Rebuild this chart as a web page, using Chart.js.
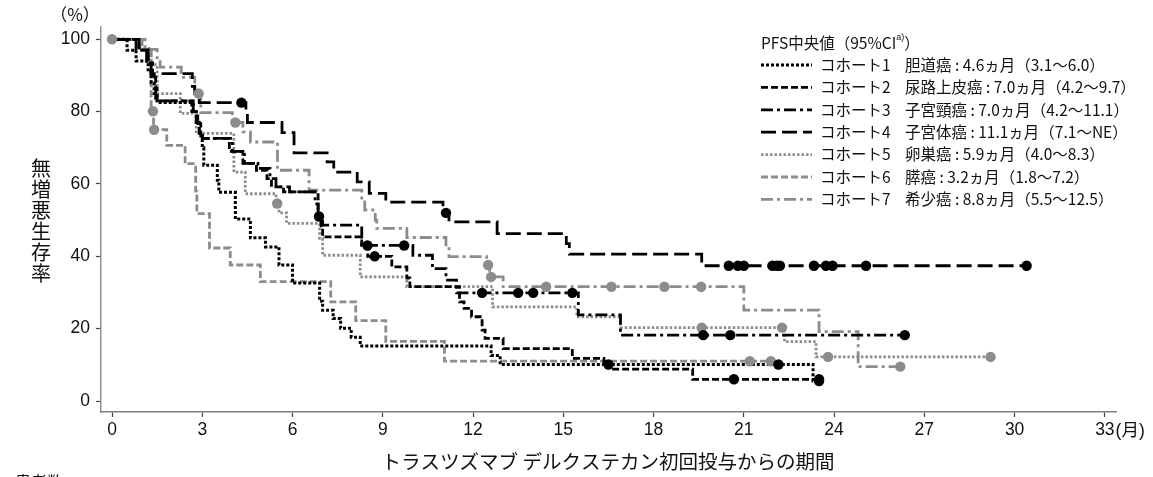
<!DOCTYPE html>
<html lang="ja">
<head>
<meta charset="UTF-8">
<title>PFS Kaplan-Meier</title>
<script src="https://cdn.jsdelivr.net/npm/chart.js"></script>
<style>
body { margin: 0; background: #ffffff; }
#wrap { width: 1153px; height: 477px; }
</style>
</head>
<body>
<div id="wrap"><canvas id="pfsChart" width="1153" height="477"></canvas></div>
<script>
// axis ticks
const xTicks = [0, 3, 6, 9, 12, 15, 18, 21, 24, 27, 30, 33];
const yTicks = [0, 20, 40, 60, 80, 100];

// step points (month, % PFS); last point = end of follow-up
const c1Time = [0, 0.5, 0.8, 1.2, 1.3, 1.4, 1.5, 2.7, 2.8, 2.9, 3.0, 3.05, 3.5, 3.55, 4.1, 4.6, 5.1, 5.55, 6.0, 6.9, 7.0, 7.35, 7.6, 7.95, 8.25, 12.6, 12.9, 23.3, 23.5];
const c1Surv = [100, 97, 94, 91, 88, 85, 82.5, 80, 77, 74, 70, 65.2, 61, 57.7, 50.3, 45.1, 42.6, 37.6, 32.6, 27.6, 25.1, 22.8, 20.1, 17.6, 15.2, 12.6, 10.1, 5.5, 5.5];
const c1Cens = [22.15, 23.5];

const c2Time = [0, 0.9, 1.2, 1.35, 1.45, 1.5, 2.65, 2.8, 2.95, 3.9, 4.35, 4.8, 5.15, 5.3, 5.7, 6.85, 6.95, 7.0, 8.3, 8.5, 9.3, 9.8, 9.9, 11.55, 11.7, 11.95, 12.3, 12.4, 13.0, 15.3, 16.35, 16.6, 19.3, 23.5];
const c2Surv = [100, 97, 93.5, 90, 86.5, 83, 80, 76.7, 72.6, 69, 65.7, 63.8, 61.5, 59.2, 57.8, 51.5, 48, 45.4, 42.5, 40, 37.1, 34, 31.6, 27.4, 25.6, 23.3, 19.6, 17.3, 14.5, 11.8, 10.1, 8.8, 6, 6];
const c2Cens = [8.73, 16.5, 20.67, 23.5];

const c3Time = [0, 0.8, 1.15, 1.3, 1.4, 1.45, 2.7, 2.85, 2.9, 3.0, 4.0, 4.4, 4.85, 5.25, 5.45, 5.9, 6.75, 6.85, 7.0, 8.3, 10.0, 10.65, 11.1, 11.45, 15.5, 16.9, 26.35];
const c3Surv = [100, 97, 93.5, 90, 86.5, 83, 80, 76.7, 73.5, 72.6, 69, 65.7, 64.3, 61.5, 59.2, 57.8, 54.5, 51, 48.6, 43, 40.3, 36.6, 33.4, 29.9, 23.8, 18.2, 18.2];
const c3Cens = [6.88, 8.49, 9.71, 12.3, 13.5, 14.0, 15.3, 19.65, 20.55, 26.35];

const c4Time = [0, 0.9, 1.2, 1.3, 2.67, 2.75, 2.9, 4.45, 4.5, 5.65, 6.05, 7.15, 7.37, 8.15, 8.55, 9.1, 11.0, 11.2, 12.8, 15.1, 15.2, 19.6, 30.4];
const c4Surv = [100, 97, 93, 90.5, 87, 85, 82.5, 80, 77, 74.2, 68.6, 66.1, 63.3, 60.6, 57.4, 55, 52, 49.5, 46.3, 43.5, 40.6, 37.4, 37.4];
const c4Cens = [4.3, 11.1, 20.5, 20.8, 21.0, 21.95, 22.1, 22.2, 23.33, 23.73, 23.95, 25.06, 30.4];

const c5Time = [0, 0.8, 1.3, 1.5, 2.27, 2.8, 4.05, 4.43, 5.45, 5.55, 5.8, 6.9, 7.0, 8.25, 9.8, 12.65, 15.45, 16.9, 22.35, 23.4, 29.2];
const c5Surv = [100, 97.5, 93, 85, 79.5, 74, 63.3, 57.3, 54.6, 52, 49.1, 45, 40.3, 34.3, 31.6, 26, 23.3, 20.3, 16.4, 12.2, 12.2];
const c5Cens = [0, 5.49, 19.6, 22.27, 23.8, 29.2];

const c6Time = [0, 1.0, 1.3, 1.38, 1.82, 2.43, 2.78, 2.82, 3.24, 3.93, 4.93, 7.27, 8.1, 9.1, 11.05, 21.9];
const c6Surv = [100, 97.2, 80.1, 75, 70.7, 65.6, 58, 51.8, 42.3, 37.6, 33, 27.4, 22.2, 16.5, 11, 11];
const c6Cens = [1.36, 1.4, 21.2, 21.9];

const c7Time = [0, 1.1, 1.5, 1.6, 2.3, 2.75, 2.95, 4.0, 4.35, 4.6, 5.5, 6.55, 8.3, 8.4, 8.75, 8.8, 9.8, 11.1, 11.2, 12.45, 12.55, 13.0, 21.0, 23.5, 24.8, 26.2];
const c7Surv = [100, 97.2, 94.4, 92.3, 89.5, 85, 79.7, 77, 74.4, 71.6, 63.8, 58.3, 55.5, 52.8, 50, 47.7, 45.2, 42.6, 39.9, 37.6, 34.3, 31.6, 25.1, 19.2, 9.5, 9.5];
const c7Cens = [2.88, 4.1, 12.5, 12.6, 14.43, 16.6, 18.36, 19.58, 26.2];

// labels
const cohortNames = ['コホート1', 'コホート2', 'コホート3', 'コホート4', 'コホート5', 'コホート6', 'コホート7'];
const cancerLabels = [
  '胆道癌 : 4.6ヵ月（3.1〜6.0）',
  '尿路上皮癌 : 7.0ヵ月（4.2〜9.7）',
  '子宮頸癌 : 7.0ヵ月（4.2〜11.1）',
  '子宮体癌 : 11.1ヵ月（7.1〜NE）',
  '卵巣癌 : 5.9ヵ月（4.0〜8.3）',
  '膵癌 : 3.2ヵ月（1.8〜7.2）',
  '希少癌 : 8.8ヵ月（5.5〜12.5）'
];
const legendTitle = 'PFS中央値（95%CI';
const yTitle = '無増悪生存率';
const xTitle = 'トラスツズマブ デルクステカン初回投与からの期間';

const allTimes = [c1Time, c2Time, c3Time, c4Time, c5Time, c6Time, c7Time];
const allSurv = [c1Surv, c2Surv, c3Surv, c4Surv, c5Surv, c6Surv, c7Surv];
const allCens = [c1Cens, c2Cens, c3Cens, c4Cens, c5Cens, c6Cens, c7Cens];

const gray = '#8c8c8c';
const styles = [
  { color: '#000', dash: [3, 2], width: 3 },
  { color: '#000', dash: [7, 3], width: 2.8 },
  { color: '#000', dash: [12, 4, 3, 4], width: 2.8 },
  { color: '#000', dash: [15, 6], width: 2.8 },
  { color: gray, dash: [2.5, 2], width: 2.8 },
  { color: gray, dash: [7, 3], width: 2.8 },
  { color: gray, dash: [12, 4, 3, 4], width: 2.8 }
];

// value of the step curve at time t
function survAt(times, surv, t) {
  let s = surv[0];
  for (let i = 0; i < times.length; i++) {
    if (times[i] <= t) s = surv[i];
  }
  return s;
}

const datasets = [];
allTimes.forEach((times, i) => {
  const st = styles[i];
  const isGray = st.color === gray;
  datasets.push({
    label: cohortNames[i],
    data: times.map((t, j) => ({ x: t, y: allSurv[i][j] })),
    stepped: 'before',
    borderColor: st.color,
    borderWidth: st.width,
    borderDash: st.dash,
    borderCapStyle: 'butt',
    pointRadius: 0,
    fill: false,
    order: isGray ? 3 : 2
  });
  datasets.push({
    label: cohortNames[i] + ' censored',
    data: allCens[i].map(t => ({ x: t, y: survAt(times, allSurv[i], t) })),
    showLine: false,
    pointRadius: 5.2,
    pointBackgroundColor: st.color,
    pointBorderWidth: 0,
    order: isGray ? 1 : 0
  });
});

const FONT = "'Liberation Sans', 'Noto Sans CJK JP', sans-serif";
const JP = "'Noto Sans CJK JP', sans-serif";

const textPlugin = {
  id: 'pfsText',
  afterDraw(chart) {
    const ctx = chart.ctx;
    const xs = chart.scales.x;
    ctx.save();
    ctx.fillStyle = '#111';
    ctx.textBaseline = 'middle';

    // unit above y axis
    ctx.textAlign = 'center';
    ctx.font = '17px ' + JP;
    ctx.fillText('（%）', 75, 15);

    // vertical y title
    ctx.font = '20px ' + JP;
    yTitle.split('').forEach((ch, i) => ctx.fillText(ch, 41, 168 + i * 21));

    // x title
    ctx.font = '19.5px ' + JP;
    ctx.fillText(xTitle, 608, 462);

    // (月) after last tick
    ctx.font = '17.5px ' + FONT;
    const x33 = xs.getPixelForValue(33) + ctx.measureText('33').width / 2;
    ctx.textAlign = 'left';
    ctx.fillText('(月)', x33 + 1, 431);

    // caption cut off by the bottom edge
    ctx.font = '16px ' + JP;
    ctx.textBaseline = 'top';
    ctx.fillText('患者数', 15, 474);
    ctx.textBaseline = 'middle';

    // legend
    ctx.font = '15.5px ' + JP;
    ctx.fillText(legendTitle, 761, 43);
    let tx = 761 + ctx.measureText(legendTitle).width;
    ctx.font = '9px ' + FONT;
    ctx.fillText('a)', tx, 38);
    tx += ctx.measureText('a)').width;
    ctx.font = '15.5px ' + JP;
    ctx.fillText('）', tx, 43);

    styles.forEach((st, i) => {
      const y = 65 + i * 22.4;
      ctx.beginPath();
      ctx.setLineDash(st.dash);
      ctx.strokeStyle = st.color;
      ctx.lineWidth = st.width;
      ctx.moveTo(761, y);
      ctx.lineTo(812, y);
      ctx.stroke();
      ctx.setLineDash([]);
      ctx.fillStyle = '#111';
      ctx.fillText(cohortNames[i], 820, y);
      ctx.fillText(cancerLabels[i], 905, y);
    });
    ctx.restore();
  }
};

new Chart(document.getElementById('pfsChart'), {
  type: 'line',
  data: { datasets: datasets },
  options: {
    responsive: false,
    animation: false,
    devicePixelRatio: 1,
    layout: { padding: { top: 27, right: 37, left: 0, bottom: 0 } },
    plugins: { legend: { display: false }, tooltip: { enabled: false } },
    scales: {
      x: {
        type: 'linear',
        min: -0.366,
        max: 33.37,
        afterBuildTicks: s => { s.ticks = xTicks.map(v => ({ value: v })); },
        afterFit: s => { s.height = 65; },
        grid: { drawOnChartArea: false, drawTicks: true, tickLength: 5, tickColor: '#444', tickWidth: 1.2 },
        border: { color: '#808080', width: 1.5 },
        ticks: { font: { family: FONT, size: 17.5 }, color: '#111', padding: 3, maxRotation: 0, autoSkip: false }
      },
      y: {
        type: 'linear',
        min: -3.04,
        max: 103.4,
        afterBuildTicks: s => { s.ticks = yTicks.map(v => ({ value: v })); },
        afterFit: s => { s.width = 101; },
        grid: { drawOnChartArea: false, drawTicks: true, tickLength: 5, tickColor: '#444', tickWidth: 1.2 },
        border: { color: '#909090', width: 1.5 },
        ticks: { font: { family: FONT, size: 17.5 }, color: '#111', padding: 6 }
      }
    }
  },
  plugins: [textPlugin]
});
</script>
</body>
</html>
